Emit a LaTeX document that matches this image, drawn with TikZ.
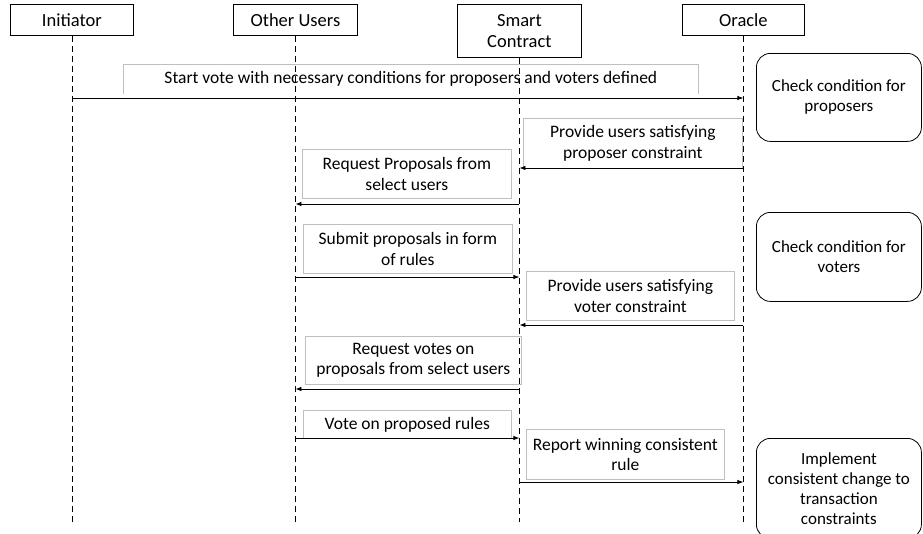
\documentclass[tikz,border=0pt]{standalone}
\usepackage{fontspec}
\setmainfont{Carlito}
\usetikzlibrary{arrows.meta}
\begin{document}
\begin{tikzpicture}[x=1pt,y=-1pt,
 hdr/.style={draw=black, line width=0.8pt, fill=white, font=\fontsize{18.5}{21.5}\selectfont, align=center, inner sep=0pt, anchor=north west},
 lbl/.style={draw=black!25, line width=0.7pt, font=\fontsize{17.5}{20.5}\selectfont, align=center, inner sep=0pt, anchor=north west},
 lblopen/.style={lbl, draw=none},
 act/.style={draw=black, rounded corners=14pt, line width=0.8pt, font=\fontsize{17}{20}\selectfont, align=center, inner sep=0pt, anchor=north west},
 life/.style={dash pattern=on 6pt off 4pt, line width=0.8pt},
 msg/.style={-{Latex[length=6pt,width=4.5pt]}, line width=0.8pt}]
\useasboundingbox (0,0) rectangle (923,533);
\clip (0,0) rectangle (923,533);
% headers
\node[hdr, minimum width=123pt, minimum height=31pt] (ini) at (10,4) {Initiator};
\node[hdr, minimum width=124pt, minimum height=31pt] (usr) at (233,4) {Other Users};
\node[hdr, minimum width=124pt, minimum height=53pt] (sc) at (457,4) {Smart\\Contract};
\node[hdr, minimum width=122pt, minimum height=31pt] (orc) at (682,4) {Oracle};
% action boxes
\node[act, minimum width=165pt, minimum height=88pt] (a1) at (756,53) {Check condition for\\proposers};
\node[act, minimum width=165pt, minimum height=89pt] (a2) at (756,212) {Check condition for\\voters};
\node[act, minimum width=165pt, minimum height=100pt] (a3) at (756,438) {Implement\\consistent change to\\transaction\\constraints};
% message label boxes
\node[lblopen, minimum width=575pt, minimum height=29pt] (l1) at (123,64) {Start vote with necessary conditions for proposers and voters defined};
\draw[draw=black!25, line width=0.7pt] (l1.south west) -- (l1.north west) -- (l1.north east) -- (l1.south east);
\node[lbl, minimum width=219pt, minimum height=50pt] (l2) at (523,118) {Provide users satisfying\\proposer constraint};
\node[lbl, minimum width=209pt, minimum height=49pt] (l3) at (302,149) {Request Proposals from\\select users};
\node[lbl, minimum width=209pt, minimum height=49pt] (l4) at (303,224) {Submit proposals in form\\of rules};
\node[lbl, minimum width=208pt, minimum height=49pt] (l5) at (526,271) {Provide users satisfying\\voter constraint};
\node[lbl, minimum width=216pt, minimum height=48pt] (l6) at (305,336) {Request votes on\\proposals from select users};
\node[lbl, minimum width=208pt, minimum height=28pt] (l7) at (303,410) {Vote on proposed rules};
\node[lbl, minimum width=198pt, minimum height=50pt] (l8) at (526,429) {Report winning consistent\\rule};
% lifelines
\coordinate (bottom) at (0,522);
\draw[life] (ini.south) -- (ini.south |- bottom);
\draw[life] (usr.south) -- (usr.south |- bottom);
\draw[life] (sc.south) -- (sc.south |- bottom);
\draw[life] (orc.south) -- (orc.south |- bottom);
% messages
\draw[msg] (ini.south |- 0,98)  -- (orc.south |- 0,98);
\draw[msg] (orc.south |- 0,168) -- (sc.south |- 0,168);
\draw[msg] (sc.south |- 0,204)  -- (usr.south |- 0,204);
\draw[msg] (usr.south |- 0,277) -- (sc.south |- 0,277);
\draw[msg] (orc.south |- 0,325) -- (sc.south |- 0,325);
\draw[msg] (sc.south |- 0,389)  -- (usr.south |- 0,389);
\draw[msg] (usr.south |- 0,438) -- (sc.south |- 0,438);
\draw[msg] (sc.south |- 0,482)  -- (orc.south |- 0,482);
\end{tikzpicture}
\end{document}
